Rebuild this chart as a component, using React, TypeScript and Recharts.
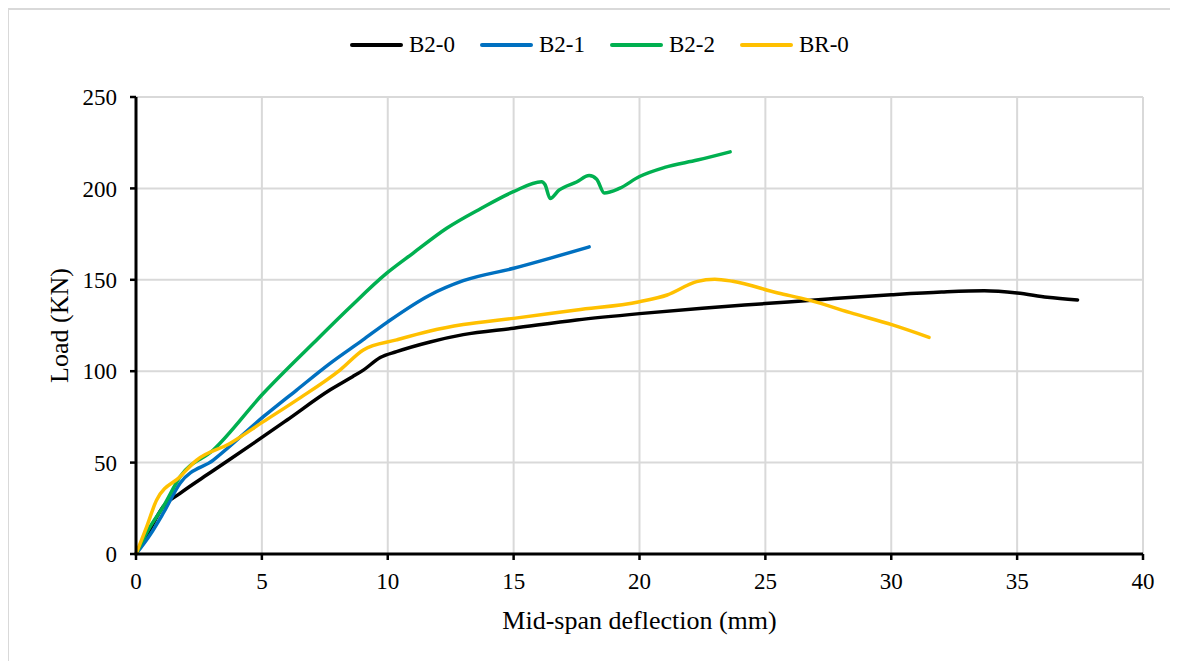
import React from 'react';
import { LineChart, Line, XAxis, YAxis, CartesianGrid } from 'recharts';

// deflection (mm) / load (kN)
const b20X = [0, 0.5, 1.08, 1.75, 3, 4.66, 6, 7.7, 8.6, 9.03, 9.7, 10.35, 11.68, 13, 15, 17.5, 20, 22.5, 25, 27.5, 30, 32, 33.7, 35, 36.2, 37.4];
const b20Y = [0, 12, 25.9, 33.2, 45, 60.5, 73.3, 89.7, 97, 100.6, 107.5, 110.7, 116, 120, 123.5, 128, 131.5, 134.5, 137, 139.5, 141.8, 143.3, 144, 142.8, 140.5, 139];

const b21X = [0, 0.56, 1.08, 1.75, 3.07, 5.06, 6.38, 7.71, 9, 10, 11.68, 13, 15, 16.5, 18];
const b21Y = [0, 10.5, 22.3, 38.7, 51.4, 75.1, 89.7, 104.3, 117, 127, 141.7, 149.5, 156.3, 162, 168];

const b22X = [0, 0.5, 1.08, 1.75, 3.07, 5.06, 7.04, 8.5, 9.96, 11, 12.34, 13.7, 14.99, 16.11, 16.25, 16.45, 16.8, 17.5, 18.0, 18.3, 18.6, 19.2, 20.0, 21.0, 22.3, 23.6];
const b22Y = [0, 13.5, 25.9, 42.3, 56.9, 87.9, 115.3, 135, 153.6, 164.5, 178.2, 189, 198.2, 203.7, 202, 194.5, 199, 203.5, 207, 205, 197.5, 200, 206.5, 211.5, 215.5, 220];

const br0X = [0, 0.4, 0.82, 1.75, 2.41, 3.73, 5.06, 6.38, 8.1, 9.03, 10.35, 11.68, 13, 15, 17.5, 20, 21.1, 22.27, 22.99, 23.7, 25.5, 26.7, 28.5, 30.05, 31.5];
const br0Y = [0, 14, 29.5, 42.3, 51.4, 60.5, 72.4, 84.2, 100.6, 111.6, 117.1, 122, 125.5, 128.9, 133.5, 138, 141.7, 149, 150.3, 149.2, 142.8, 139, 131.5, 125.3, 118.5];

const xTicks = [0, 5, 10, 15, 20, 25, 30, 35, 40];
const yTicks = [0, 50, 100, 150, 200, 250];

const toPoints = (xs: number[], ys: number[]) => xs.map((x, i) => ({ x, y: ys[i] }));

const series = [
  { name: 'B2-0', color: '#000000', data: toPoints(b20X, b20Y) },
  { name: 'B2-1', color: '#0070c0', data: toPoints(b21X, b21Y) },
  { name: 'B2-2', color: '#00b050', data: toPoints(b22X, b22Y) },
  { name: 'BR-0', color: '#ffc000', data: toPoints(br0X, br0Y) },
];

const FONT = '"Liberation Serif", "Times New Roman", serif';
const tickStyle = { fill: '#000', fontSize: 23, fontFamily: FONT };

const XTitle = (props: any) => {
  const { viewBox } = props;
  return (
    <text x={viewBox.x + viewBox.width / 2} y={viewBox.y + 66} textAnchor="middle" dominantBaseline="central"
      fontSize={26} fontFamily={FONT} fill="#000">
      Mid-span deflection (mm)
    </text>
  );
};

const YTitle = (props: any) => {
  const { viewBox } = props;
  const cx = viewBox.x - 17;
  const cy = viewBox.y + viewBox.height / 2;
  return (
    <text x={cx} y={cy} textAnchor="middle" dominantBaseline="central" transform={`rotate(-90, ${cx}, ${cy})`}
      fontSize={26} fontFamily={FONT} fill="#000">
      Load (KN)
    </text>
  );
};

export default function App() {
  return (
    <div style={{ position: 'relative', width: 1162, height: 653, fontFamily: FONT }}>
      <div style={{ position: 'absolute', left: -1, top: 0, right: 0, bottom: 0, borderLeft: '2px solid #d9d9d9', borderTop: '2px solid #d9d9d9', pointerEvents: 'none' }} />
      <div style={{ position: 'absolute', left: 342, top: 24, display: 'flex', alignItems: 'center', fontFamily: FONT, fontSize: 23, color: '#000' }}>
        {series.map(s => (
          <div key={s.name} style={{ display: 'flex', alignItems: 'center', marginRight: 25 }}>
            <span style={{ display: 'inline-block', width: 53, height: 4, borderRadius: 2, background: s.color, marginRight: 6 }} />
            <span>{s.name}</span>
          </div>
        ))}
      </div>
      <LineChart width={1162} height={653} margin={{ top: 89, right: 27, left: 68, bottom: 37 }} style={{ fontFamily: FONT }}>
        <CartesianGrid stroke="#d9d9d9" strokeWidth={2} />
        <XAxis
          dataKey="x"
          type="number"
          domain={[0, 40]}
          ticks={xTicks}
          allowDuplicatedCategory={false}
          height={70}
          tick={tickStyle}
          tickSize={6}
          tickMargin={13}
          axisLine={{ stroke: '#000', strokeWidth: 3 }}
          tickLine={{ stroke: '#000', strokeWidth: 2.5 }}
          label={<XTitle />}
        />
        <YAxis
          type="number"
          domain={[0, 250]}
          ticks={yTicks}
          width={60}
          tick={tickStyle}
          tickSize={6}
          tickMargin={13}
          axisLine={{ stroke: '#000', strokeWidth: 3 }}
          tickLine={{ stroke: '#000', strokeWidth: 2.5 }}
          label={<YTitle />}
        />
        {series.map(s => (
          <Line
            key={s.name}
            data={s.data}
            dataKey="y"
            name={s.name}
            type="monotone"
            stroke={s.color}
            strokeWidth={3.5}
            strokeLinecap="round"
            dot={false}
            activeDot={false}
            isAnimationActive={false}
          />
        ))}
      </LineChart>
    </div>
  );
}
